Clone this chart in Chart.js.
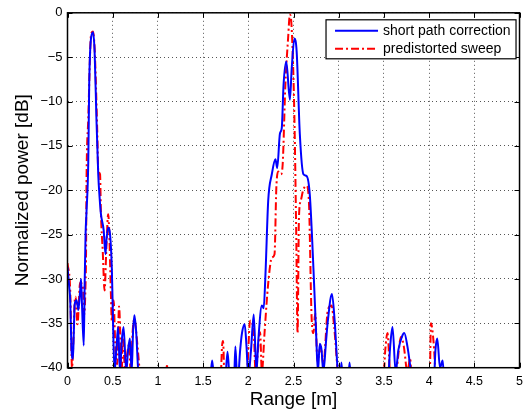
<!DOCTYPE html>
<html>
<head>
<meta charset="utf-8">
<script src="https://cdn.jsdelivr.net/npm/chart.js@4.4.1/dist/chart.umd.min.js"></script>
<style>
  html, body { margin: 0; padding: 0; background: #fff; }
  #wrap { width: 529px; height: 414px; }
</style>
</head>
<body>
<div id="wrap"><canvas id="rangePlot" width="529" height="414"></canvas></div>
<script>
// short path correction: range [m] and normalized power [dB]
const shortPathRange = [0.00, 0.02, 0.03, 0.045, 0.06, 0.07, 0.08, 0.10, 0.12, 0.14, 0.15, 0.16, 0.18, 0.19, 0.20, 0.21, 0.23, 0.24, 0.26, 0.283, 0.30, 0.32, 0.34, 0.355, 0.37, 0.40, 0.42, 0.43, 0.45, 0.47, 0.49, 0.50, 0.52, 0.54, 0.56, 0.58, 0.60, 0.62, 0.65, 0.67, 0.69, 0.71, 0.725, 0.74, 0.76, 0.78, 0.80,
  1.57, 1.60, 1.63, 1.74, 1.77, 1.80, 1.84, 1.857, 1.88, 1.91, 1.93, 1.96, 1.98, 2.00, 2.03, 2.06, 2.09, 2.11, 2.15, 2.17, 2.19, 2.22, 2.26, 2.30, 2.32, 2.35, 2.37, 2.39, 2.42, 2.46, 2.48, 2.51, 2.535, 2.57, 2.61, 2.645, 2.68, 2.72, 2.75, 2.77, 2.79, 2.81, 2.83, 2.86, 2.88, 2.925, 2.955, 2.99, 3.01, 3.03, 3.05, 3.10, 3.12, 3.14,
  3.54, 3.57, 3.595, 3.63, 3.66, 3.70, 3.725, 3.76, 3.80, 3.82, 4.05, 4.07, 4.09, 4.12, 4.15, 4.17, 5.00];
const shortPathPower = [-28.7, -31, -32.4, -38.1, -39, -36, -32.8, -32.4, -33.5, -31.3, -30, -32.8, -37.5, -30.4, -24.9, -22.5, -16.7, -8.1, -2.9, -2.2, -4.4, -11.9, -18.2, -20.8, -22.7, -24.5, -27.2, -25.7, -24.2, -24.9, -28.7, -33.1, -40.5, -38, -35.4, -40.5, -37, -35.4, -40.5, -38, -36.7, -40.5, -36, -34.1, -36, -40, -42,
  -42, -39.2, -42, -42, -38.2, -42, -42, -37.6, -42, -38, -36.1, -35.1, -37.6, -41, -38, -34.0, -40.5, -37, -33.0, -33.3, -29.4, -21.2, -18.2, -16.5, -17.5, -13.6, -13, -8.1, -5.5, -9.8, -6.3, -2.9, -4.4, -13.7, -18.2, -18.4, -20.5, -28.7, -36.1, -40.5, -37.3, -38, -40.5, -37, -34.7, -31.7, -34.7, -40.5, -42, -39.4, -42, -42, -39.4, -42,
  -42, -37.5, -35.4, -40.5, -38, -36.5, -36.1, -37.6, -40.5, -42, -42, -38, -36.7, -40, -39.2, -42, -42];

// predistorted sweep
const predistRange = [0.00, 0.03, 0.05, 0.065, 0.08, 0.09, 0.11, 0.14, 0.17, 0.185, 0.20, 0.205, 0.21, 0.23, 0.26, 0.28, 0.30, 0.33, 0.34, 0.36, 0.37, 0.39, 0.41, 0.43, 0.45, 0.46, 0.48, 0.49, 0.51, 0.53, 0.55, 0.57, 0.60, 0.61, 0.64, 0.66, 0.68, 0.70, 0.72, 0.74, 0.76, 0.78, 0.80, 0.82,
  1.09, 1.10, 1.11, 1.69, 1.71, 1.72, 1.74,
  1.97, 1.99, 2.02, 2.06, 2.08, 2.13, 2.15, 2.18, 2.22, 2.26, 2.29, 2.31, 2.33, 2.36, 2.38, 2.41, 2.44, 2.46, 2.48, 2.51, 2.53, 2.545, 2.56, 2.58, 2.61, 2.645, 2.67, 2.70, 2.72, 2.74, 2.765, 2.80, 2.83, 2.88, 2.92, 2.95, 2.99, 3.01,
  3.49, 3.515, 3.54, 3.57, 3.63, 3.69, 3.72, 3.76, 3.79, 3.81, 3.99, 4.01, 4.02, 4.05, 4.07, 4.09, 5.00];
const predistPower = [-28.2, -31.3, -40, -37, -32.4, -32, -35.1, -30.4, -30.9, -34, -30.4, -27.3, -19.3, -11.9, -2.5, -2.1, -4, -13.7, -17.8, -18.2, -22.7, -26.9, -31.3, -26.5, -22.7, -24.2, -31.7, -34.7, -32.4, -38, -39.6, -33.1, -40.5, -36.7, -40.5, -38.5, -37.4, -40.5, -36, -34.5, -36, -38.2, -40.5, -42,
  -42, -39.6, -42, -42, -37.5, -37, -42,
  -42, -40, -34.7, -36, -40.5, -36, -40.5, -36, -30.5, -27.6, -27.2, -19.7, -17.9, -18.2, -17.1, -8.1, -2.9, -0.2, -1.8, -11.9, -24.9, -36.1, -23.1, -21.2, -19.9, -19.5, -21.2, -34.3, -36.1, -33.9, -39.3, -37.6, -39.6, -33.5, -33, -35.4, -40.5, -42,
  -42, -38, -36.1, -40.5, -40.5, -36.5, -37.6, -40.5, -38.9, -42, -42, -40, -35.0, -37.2, -40.5, -42, -42];

const rangeTicks = [0, 0.5, 1, 1.5, 2, 2.5, 3, 3.5, 4, 4.5, 5];
const powerTicks = [0, -5, -10, -15, -20, -25, -30, -35, -40];
const seriesNames = ['short path correction', 'predistorted sweep'];

const toPoints = (xs, ys) => xs.map((x, i) => ({ x: x, y: ys[i] }));
const FONT = "'Liberation Sans', Arial, Helvetica, sans-serif";

// matlab-style box with inward tick marks on all four sides
const axesBox = {
  id: 'axesBox',
  afterDatasetsDraw(chart) {
    const { ctx, chartArea: a, scales: { x, y } } = chart;
    const len = 5;
    ctx.save();
    ctx.strokeStyle = '#000';
    ctx.lineWidth = 1;
    ctx.beginPath();
    rangeTicks.forEach(v => {
      const px = Math.round(x.getPixelForValue(v)) + 0.5;
      ctx.moveTo(px, a.bottom); ctx.lineTo(px, a.bottom - len);
      ctx.moveTo(px, a.top); ctx.lineTo(px, a.top + len);
    });
    powerTicks.forEach(v => {
      const py = Math.round(y.getPixelForValue(v)) + 0.5;
      ctx.moveTo(a.left, py); ctx.lineTo(a.left + len, py);
      ctx.moveTo(a.right, py); ctx.lineTo(a.right - len, py);
    });
    ctx.stroke();
    ctx.lineWidth = 1.5;
    ctx.strokeRect(a.left, a.top, a.right - a.left, a.bottom - a.top);
    ctx.restore();
  }
};

// legend box drawn inside the plot, top right
const insideLegend = {
  id: 'insideLegend',
  afterDatasetsDraw(chart) {
    const { ctx, chartArea: a } = chart;
    const boxW = 190, boxH = 39;
    const bx = a.right - boxW - 3.5, by = a.top + 7;
    ctx.save();
    ctx.fillStyle = '#fff';
    ctx.fillRect(bx, by, boxW, boxH);
    ctx.strokeStyle = '#000';
    ctx.lineWidth = 1.2;
    ctx.strokeRect(bx, by, boxW, boxH);
    ctx.font = '14px ' + FONT;
    ctx.textBaseline = 'middle';
    chart.data.datasets.forEach((ds, i) => {
      const ly = by + 11 + i * 18;
      ctx.strokeStyle = ds.borderColor;
      ctx.lineWidth = ds.borderWidth;
      ctx.setLineDash(ds.borderDash || []);
      ctx.beginPath();
      ctx.moveTo(bx + 9, ly);
      ctx.lineTo(bx + 52, ly);
      ctx.stroke();
      ctx.setLineDash([]);
      ctx.fillStyle = '#000';
      ctx.fillText(ds.label, bx + 57, ly);
    });
    ctx.restore();
  }
};

new Chart(document.getElementById('rangePlot'), {
  type: 'line',
  data: {
    datasets: [
      {
        label: seriesNames[0],
        data: toPoints(shortPathRange, shortPathPower),
        borderColor: '#0000ff',
        borderWidth: 2,
        pointRadius: 0,
        cubicInterpolationMode: 'monotone',
        clip: 0
      },
      {
        label: seriesNames[1],
        data: toPoints(predistRange, predistPower),
        borderColor: '#ff0000',
        borderWidth: 2,
        borderDash: [8, 3, 2, 3],
        pointRadius: 0,
        cubicInterpolationMode: 'monotone',
        clip: 0
      }
    ]
  },
  options: {
    responsive: false,
    animation: false,
    events: [],
    layout: { padding: { top: 10.7, right: 6.5, left: 0, bottom: 0 } },
    plugins: { legend: { display: false }, tooltip: { enabled: false } },
    scales: {
      x: {
        type: 'linear',
        min: 0,
        max: 5,
        afterBuildTicks: s => { s.ticks = rangeTicks.map(v => ({ value: v })); },
        afterFit: s => { s.height = 46.3; },
        grid: { color: '#555', lineWidth: 1, drawTicks: false },
        border: { display: false, dash: [1, 3] },
        ticks: { color: '#000', padding: 6, font: { size: 12.5, family: FONT }, callback: v => String(v) },
        title: { display: true, text: 'Range [m]', color: '#000', font: { size: 19, family: FONT }, padding: { top: 0, bottom: 3 } }
      },
      y: {
        type: 'linear',
        min: -40,
        max: 0,
        afterBuildTicks: s => { s.ticks = powerTicks.map(v => ({ value: v })); },
        afterFit: s => { s.width = 67.5; },
        grid: { color: '#555', lineWidth: 1, drawTicks: false },
        border: { display: false, dash: [1, 3] },
        ticks: { color: '#000', padding: 5, font: { size: 13, family: FONT }, callback: v => v < 0 ? '\u2212' + Math.abs(v) : String(v) },
        title: { display: true, text: 'Normalized power [dB]', color: '#000', font: { size: 19, family: FONT }, padding: { top: 11, bottom: 0 } }
      }
    }
  },
  plugins: [axesBox, insideLegend]
});
</script>
</body>
</html>
